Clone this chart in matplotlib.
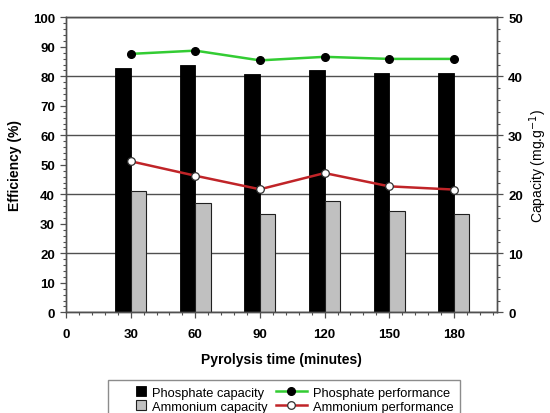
import matplotlib
matplotlib.use("Agg")
import matplotlib.pyplot as plt
from matplotlib.patches import Rectangle
from matplotlib.legend_handler import HandlerPatch
from matplotlib.ticker import MultipleLocator

plt.rcParams['font.family'] = ['Liberation Sans', 'DejaVu Sans']

# Pyrolysis time (minutes)
time = [30, 60, 90, 120, 150, 180]
# Adsorption capacity (mg/g) - right axis
phosphate_capacity = [41.4, 42.0, 40.4, 41.1, 40.6, 40.6]
ammonium_capacity = [20.5, 18.6, 16.7, 18.9, 17.1, 16.6]
# Removal efficiency (%) - left axis
phosphate_performance = [87.6, 88.7, 85.4, 86.6, 85.9, 85.9]
ammonium_performance = [51.2, 46.3, 41.7, 47.2, 42.7, 41.6]

xticks = [0, 30, 60, 90, 120, 150, 180]

bar_w = 7.2
spine_c = '#505050'
grid_c = '#505050'
green = '#33cc33'
red = '#c02428'

fig = plt.figure(figsize=(5.5, 4.14), dpi=100)
ax = fig.add_axes([66 / 550, 1 - 313.3 / 414, (497 - 66) / 550, (313.3 - 18.3) / 414])
ax2 = ax.twinx()

# capacity bars + grid on the secondary axis (drawn underneath)
ax2.set_axisbelow(True)
ax2.yaxis.grid(True, color=grid_c, linewidth=1.0)
ax2.bar(time, phosphate_capacity, width=-bar_w, align='edge', color='black',
        edgecolor='black', linewidth=0.6, label='Phosphate capacity', zorder=2)
ax2.bar(time, ammonium_capacity, width=bar_w, align='edge', color='#c0c0c0',
        edgecolor='#202020', linewidth=0.8, label='Ammonium capacity', zorder=2)

# efficiency lines on the primary axis, raised above the bars
ax.set_zorder(ax2.get_zorder() + 1)
ax.patch.set_visible(False)
ax.plot(time, phosphate_performance, color=green, linewidth=1.8, marker='o',
        markersize=5.5, markerfacecolor='black', markeredgecolor='black',
        label='Phosphate performance', zorder=3)
ax.plot(time, ammonium_performance, color=red, linewidth=1.8, marker='o',
        markersize=5.5, markerfacecolor='white', markeredgecolor='#303030',
        markeredgewidth=0.9, label='Ammonium performance', zorder=3)

ax.set_xlim(0, 200)
ax.set_ylim(0, 100)
ax2.set_ylim(0, 50)

ax.set_xticks(xticks)
ax.xaxis.set_minor_locator(MultipleLocator(6))
ax.yaxis.set_major_locator(MultipleLocator(10))
ax.yaxis.set_minor_locator(MultipleLocator(2))
ax2.yaxis.set_major_locator(MultipleLocator(10))
ax2.yaxis.set_minor_locator(MultipleLocator(2))

for a in (ax, ax2):
    for s in a.spines.values():
        s.set_color(spine_c)
        s.set_linewidth(1.0)

ax.tick_params(axis='both', which='major', direction='out', length=4, width=0.9,
               color=spine_c, labelsize=9.5)
ax.tick_params(axis='both', which='minor', direction='out', length=2.5, width=0.8,
               color=spine_c)
ax.tick_params(axis='x', which='major', pad=7)
ax.tick_params(axis='y', which='major', pad=4)
ax2.tick_params(axis='y', which='major', direction='out', length=4, width=0.9,
                color=spine_c, labelsize=9.5, pad=4)
ax2.tick_params(axis='y', which='minor', direction='out', length=2.5, width=0.8,
                color=spine_c)
for lbl in ax.get_xticklabels() + ax.get_yticklabels() + ax2.get_yticklabels():
    lbl.set_fontweight('bold')

ax.set_xlabel('Pyrolysis time (minutes)', fontsize=10, fontweight='bold', labelpad=9)
ax.set_ylabel('Efficiency (%)', fontsize=10, fontweight='bold', labelpad=8)
ax2.set_ylabel('Capacity (mg.g$^{-1}$)', fontsize=10, labelpad=3)


def small_square(legend, orig_handle, xdescent, ydescent, width, height, fontsize):
    side = height * 1.1
    return Rectangle((width - side - xdescent, -ydescent - 0.05 * height), side, side)


handles = [
    ax2.containers[0].patches[0], ax2.containers[1].patches[0],
    ax.lines[0], ax.lines[1],
]
labels = ['Phosphate capacity', 'Ammonium capacity',
          'Phosphate performance', 'Ammonium performance']
leg = fig.legend(handles, labels, loc='upper left',
                 bbox_to_anchor=(102 / 550, 1 - 375 / 414), ncol=2, fontsize=9.3,
                 frameon=True, fancybox=False, edgecolor='#707070',
                 handlelength=2.4, handletextpad=0.5, columnspacing=0.6,
                 labelspacing=0.15, borderpad=0.5,
                 handler_map={Rectangle: HandlerPatch(patch_func=small_square)})
leg.get_frame().set_linewidth(1.0)

fig.savefig('out.png', dpi=100)
